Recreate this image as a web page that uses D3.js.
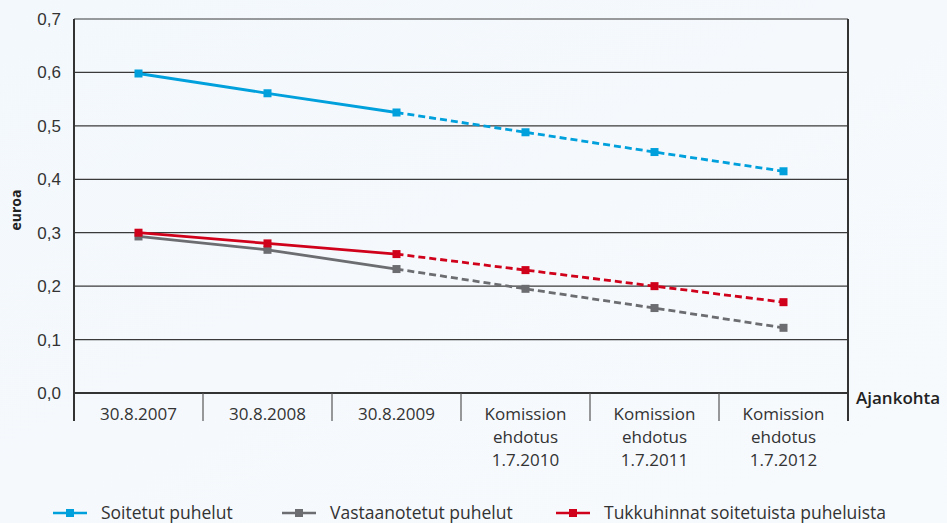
<!DOCTYPE html>
<html>
<head>
<meta charset="utf-8">
<script src="https://cdn.jsdelivr.net/npm/d3@7"></script>
<style>
  body { margin: 0; background: #f5f9fc; }
  svg { display: block; font-family: "Open Sans", "Noto Sans", sans-serif; }
</style>
</head>
<body>
<svg id="chart"></svg>
<script>
const categories = [
    ["30.8.2007"],
    ["30.8.2008"],
    ["30.8.2009"],
    ["Komission", "ehdotus", "1.7.2010"],
    ["Komission", "ehdotus", "1.7.2011"],
    ["Komission", "ehdotus", "1.7.2012"]
]
const soitetut = [0.598, 0.561, 0.525, 0.488, 0.451, 0.415]
const vastaanotetut = [0.293, 0.268, 0.232, 0.195, 0.159, 0.122]
const tukkuhinnat = [0.30, 0.28, 0.26, 0.23, 0.20, 0.17]
const yTicks = [0, 0.1, 0.2, 0.3, 0.4, 0.5, 0.6, 0.7]
const seriesNames = ["Soitetut puhelut", "Vastaanotetut puhelut", "Tukkuhinnat soitetuista puheluista"]
const lastActual = 2 // index of last measured point, rest is proposal (dashed)

const chart = { width: 947, height: 523 }
const plot = { left: 74, right: 848, top: 19, bottom: 393 }

const svg = d3.select("#chart")
    .attr("width", chart.width)
    .attr("height", chart.height)

// soft background gradient
const defs = svg.append("defs")
const grad = defs.append("linearGradient").attr("id", "bg")
    .attr("x1", "0").attr("y1", "0").attr("x2", "1").attr("y2", "1")
grad.append("stop").attr("offset", "0").attr("stop-color", "#f3f8fc")
grad.append("stop").attr("offset", "1").attr("stop-color", "#f7fafd")
svg.append("rect").attr("width", chart.width).attr("height", chart.height).attr("fill", "url(#bg)")

const idx = d3.range(categories.length)
const x = d3.scaleBand().domain(idx).range([plot.left, plot.right])
const y = d3.scaleLinear().domain([0, 0.7]).range([plot.bottom, plot.top])
const fmt = d => d3.format(".1f")(d).replace(".", ",")

// gridlines
svg.append("g")
    .selectAll("line")
    .data(yTicks.slice(1))
    .enter()
    .append("line")
    .attr("x1", plot.left).attr("x2", plot.right)
    .attr("y1", d => y(d)).attr("y2", d => y(d))
    .attr("stroke", "#3a3a3a")
    .attr("stroke-width", 1.2)

// right border
svg.append("line")
    .attr("x1", plot.right).attr("x2", plot.right)
    .attr("y1", plot.top).attr("y2", plot.bottom + 28)
    .attr("stroke", "#333").attr("stroke-width", 2)

// y axis
const yAxis = svg.append("g")
    .attr("transform", "translate(" + plot.left + ",0)")
    .call(d3.axisLeft(y).tickValues(yTicks).tickFormat(fmt).tickSize(0).tickPadding(13))
yAxis.select(".domain").remove()
yAxis.selectAll("text").attr("font-size", 17).attr("fill", "#333")
svg.append("line")
    .attr("x1", plot.left).attr("x2", plot.left)
    .attr("y1", plot.top).attr("y2", plot.bottom + 28)
    .attr("stroke", "#333").attr("stroke-width", 2)

svg.append("text")
    .attr("transform", "translate(21," + (y(0.35) + 4) + ") rotate(-90)")
    .attr("text-anchor", "middle")
    .attr("font-size", 14)
    .attr("font-weight", "bold")
    .attr("fill", "#222")
    .text("euroa")

// x axis
svg.append("line")
    .attr("x1", plot.left).attr("x2", plot.right)
    .attr("y1", plot.bottom).attr("y2", plot.bottom)
    .attr("stroke", "#333").attr("stroke-width", 2)

svg.append("g")
    .selectAll("line")
    .data(idx.slice(1))
    .enter()
    .append("line")
    .attr("x1", d => x(d)).attr("x2", d => x(d))
    .attr("y1", plot.bottom).attr("y2", plot.bottom + 28)
    .attr("stroke", "#555").attr("stroke-width", 1.2)

const xLabels = svg.append("g")
    .selectAll("text")
    .data(idx)
    .enter()
    .append("text")
    .attr("x", d => x(d) + x.bandwidth() / 2)
    .attr("y", plot.bottom + 27)
    .attr("text-anchor", "middle")
    .attr("font-size", 17)
    .attr("fill", "#333")
xLabels.selectAll("tspan")
    .data(d => categories[d])
    .enter()
    .append("tspan")
    .attr("x", function () { return this.parentNode.getAttribute("x") })
    .attr("dy", (d, i) => i === 0 ? 0 : 23)
    .text(d => d)

svg.append("text")
    .attr("x", plot.right + 8)
    .attr("y", plot.bottom + 11)
    .attr("font-size", 17)
    .attr("font-weight", 600)
    .attr("fill", "#222")
    .text("Ajankohta")

// series
const series = [
    { name: seriesNames[0], values: soitetut, color: "#00a0dc" },
    { name: seriesNames[1], values: vastaanotetut, color: "#6c6d70" },
    { name: seriesNames[2], values: tukkuhinnat, color: "#d0021b" }
]
const cx = i => x(i) + x.bandwidth() / 2
const line = d3.line().x(d => cx(d.i)).y(d => y(d.v))

series.forEach(s => {
    const pts = s.values.map((v, i) => ({ i: i, v: v }))
    svg.append("path")
        .datum(pts.slice(0, lastActual + 1))
        .attr("fill", "none")
        .attr("stroke", s.color)
        .attr("stroke-width", 2.8)
        .attr("d", line)
    svg.append("path")
        .datum(pts.slice(lastActual))
        .attr("fill", "none")
        .attr("stroke", s.color)
        .attr("stroke-width", 2.8)
        .attr("stroke-dasharray", "7 4")
        .attr("d", line)
    svg.append("g")
        .selectAll("rect")
        .data(pts)
        .enter()
        .append("rect")
        .attr("x", d => cx(d.i) - 4)
        .attr("y", d => y(d.v) - 4)
        .attr("width", 8)
        .attr("height", 8)
        .attr("fill", s.color)
})

// legend
const legendX = [53, 282, 556]
const legend = svg.append("g")
    .selectAll("g")
    .data(series)
    .enter()
    .append("g")
    .attr("transform", (d, i) => "translate(" + legendX[i] + ",513)")
legend.append("line")
    .attr("x1", 0).attr("x2", 34)
    .attr("stroke", d => d.color).attr("stroke-width", 2.5)
legend.append("rect")
    .attr("x", 13).attr("y", -4).attr("width", 8).attr("height", 8)
    .attr("fill", d => d.color)
legend.append("text")
    .attr("x", 48).attr("y", 6)
    .attr("font-size", 17.5)
    .attr("fill", "#333")
    .text(d => d.name)
</script>
</body>
</html>
